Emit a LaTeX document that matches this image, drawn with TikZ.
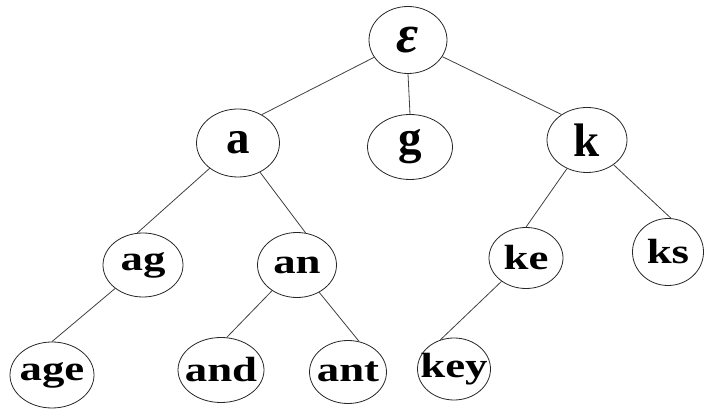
\documentclass[tikz,border=0pt]{standalone}
\usepackage{graphicx}
\usepackage{fontspec}
\setmainfont{Liberation Serif}
\usetikzlibrary{shapes.geometric}
% lower-level labels are set in a horizontally widened bold face;
% zero-width boxes keep the ellipse size fixed by minimum width
\newcommand\widelabel[1]{\makebox[0pt]{\scalebox{1.28}[1]{#1}}}
\newcommand\toplabel[1]{\makebox[0pt]{#1}}
\tikzset{
  trienode/.style={draw=black!85, line width=0.8pt, ellipse, inner sep=0pt,
    font=\bfseries\fontsize{35}{35}\selectfont},
  toplevel/.style={trienode, font=\bfseries\fontsize{47}{47}\selectfont},
  link/.style={draw=black!75, line width=0.8pt}
}
\begin{document}
\begin{tikzpicture}[x=1pt, y=-1pt]
  \useasboundingbox (0,0) rectangle (705,411);
  % root and first level
  \node[toplevel, minimum width=78pt, minimum height=67pt] (eps) at (408,40) {\toplabel{\fontsize{54}{54}\selectfont\textit{ε}}};
  \node[toplevel, minimum width=83pt, minimum height=68pt] (a) at (238,143) {\toplabel{a}};
  \node[toplevel, minimum width=85pt, minimum height=65pt] (g) at (410,147) {\toplabel{g}};
  \node[toplevel, minimum width=80pt, minimum height=65pt] (k) at (587,140) {\toplabel{k}};
  % second level
  \node[trienode, minimum width=80pt, minimum height=64pt] (ag) at (143,265) {\widelabel{ag}};
  \node[trienode, minimum width=79pt, minimum height=65pt] (an) at (297,265) {\widelabel{an}};
  \node[trienode, minimum width=74pt, minimum height=61pt] (ke) at (526,258) {\widelabel{ke}};
  \node[trienode, minimum width=71pt, minimum height=67pt] (ks) at (668,252) {\widelabel{ks}};
  % leaves
  \node[trienode, minimum width=84pt, minimum height=66pt] (age) at (52,375) {\widelabel{age}};
  \node[trienode, minimum width=86pt, minimum height=65pt] (and) at (221,370) {\widelabel{and}};
  \node[trienode, minimum width=77pt, minimum height=63pt] (ant) at (348,372) {\widelabel{ant}};
  \node[trienode, minimum width=73pt, minimum height=62pt] (key) at (454,369) {\widelabel{key}};
  % connectors
  \draw[link] (eps) -- (a.50);
  \draw[link] (eps.south) -- (g.north);
  \draw[link] (eps) -- (k.135);
  \draw[link] (a) -- (ag.100);
  \draw[link] (a) -- (an.75);
  \draw[link] (k) -- (ke.north);
  \draw[link] (k) -- (ks.85);
  \draw[link] (ag) -- (age.north);
  \draw[link] (an) -- (and.80);
  \draw[link] (an) -- (ant.70);
  \draw[link] (ke) -- (key.115);
\end{tikzpicture}
\end{document}
